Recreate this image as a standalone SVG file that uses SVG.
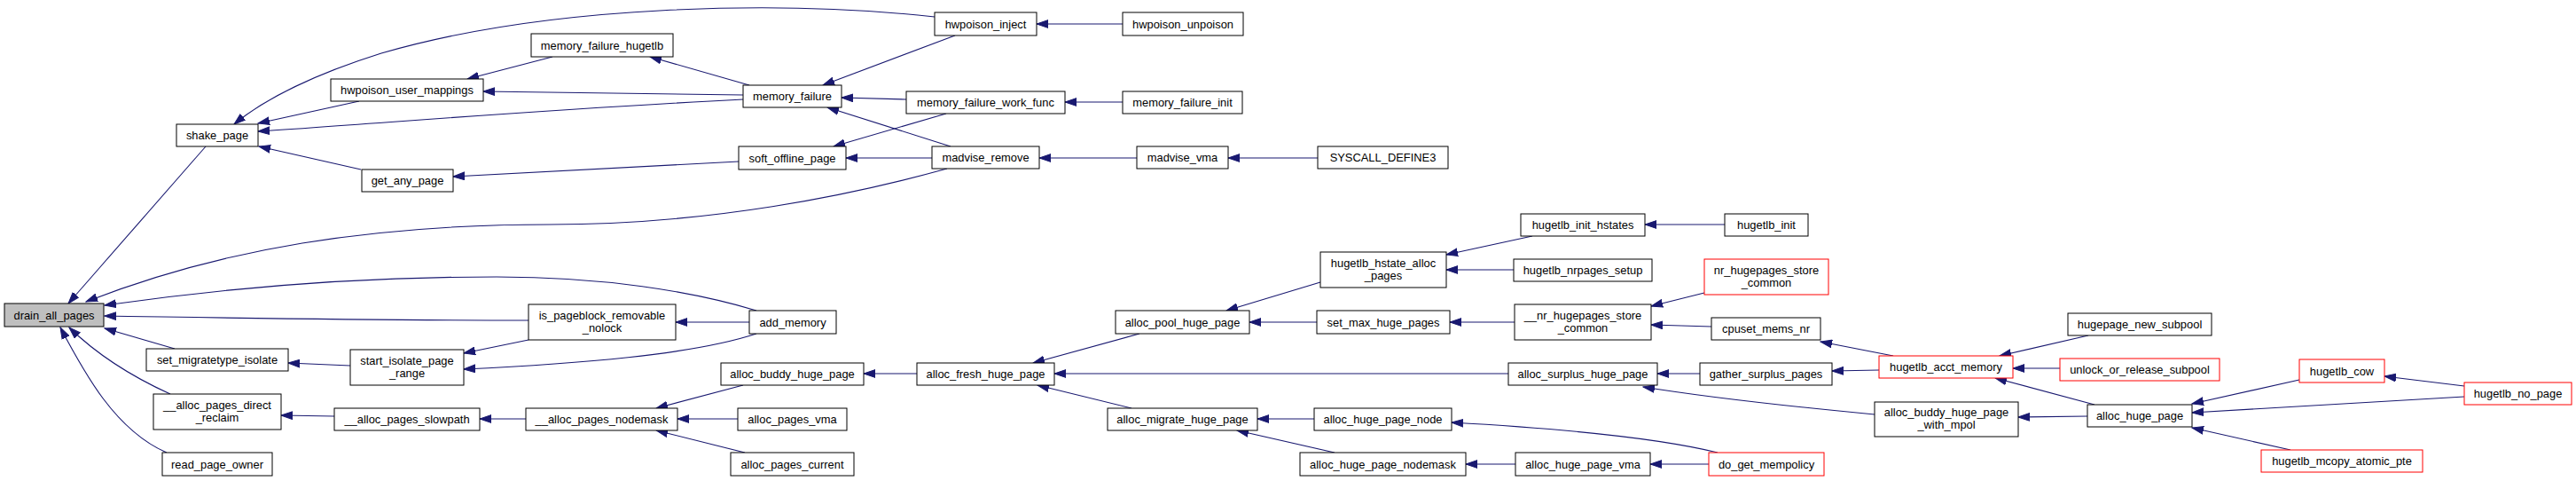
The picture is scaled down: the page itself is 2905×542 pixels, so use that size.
<svg xmlns="http://www.w3.org/2000/svg" width="2905" height="542" viewBox="0 0 2905 542">
<style>
.node rect{fill:#ffffff;stroke:#000000;stroke-width:1}
.node.red rect{stroke:#ff0000}
.node.cur rect{fill:#bfbfbf}
text{font-family:"Liberation Sans",Arial,Helvetica,sans-serif;font-size:12.9px;text-anchor:middle;fill:#000000}
#edges path{fill:none;stroke:#191970;stroke-width:1.1;marker-end:url(#arr)}
</style>
<defs>
<marker id="arr" markerUnits="userSpaceOnUse" markerWidth="14" markerHeight="10" viewBox="0 0 14 10" refX="13" refY="5" orient="auto">
<path d="M0,0.6 L13,5 L0,9.4 z" fill="#191970" stroke="#191970" stroke-width="1"/>
</marker>
</defs>
<rect x="0" y="0" width="2905" height="542" fill="#ffffff"/>
<g id="edges">
<path d="M232,165 L77,342"/>
<path d="M1068,190 C960,220 800,253 620,253 C420,253 250,280 97,340"/>
<path d="M853,350 C780,328 680,312 560,312 C400,312 250,325 118,344"/>
<path d="M596,361 C400,361 250,358 118,356"/>
<path d="M197,393 L118,370"/>
<path d="M192,444 C150,425 110,400 78,369"/>
<path d="M188,510 C130,485 95,420 68,369"/>
<path d="M1054,19 C880,0 620,5 430,60 C360,82 300,110 264,140"/>
<path d="M405,114 L291,139"/>
<path d="M838,112 C600,124 420,140 291,148"/>
<path d="M407,191 L292,165"/>
<path d="M623,64 L527,89"/>
<path d="M838,107 L545,103"/>
<path d="M845,96 L733,64"/>
<path d="M833,182 L511,199"/>
<path d="M1077,40 L928,96"/>
<path d="M1022,112 L949,110"/>
<path d="M1072,165 L933,121"/>
<path d="M1067,128 L940,165"/>
<path d="M1051,178 L954,178"/>
<path d="M1266,27 L1169,27"/>
<path d="M1266,115 L1201,115"/>
<path d="M1282,178 L1172,178"/>
<path d="M1486,178 L1385,178"/>
<path d="M845,363 L762,363"/>
<path d="M395,412 L325,409"/>
<path d="M596,383 L523,398"/>
<path d="M853,376 C780,400 650,410 523,416"/>
<path d="M377,469 L317,468"/>
<path d="M593,472 L541,472"/>
<path d="M838,434 L740,460"/>
<path d="M832,472 L764,472"/>
<path d="M840,510 L740,485"/>
<path d="M1034,421 L974,421"/>
<path d="M1285,376 L1165,409"/>
<path d="M1701,421 L1189,421"/>
<path d="M1276,460 L1170,434"/>
<path d="M1489,318 L1383,350"/>
<path d="M1485,363 L1409,363"/>
<path d="M1482,472 L1418,472"/>
<path d="M1505,510 L1395,485"/>
<path d="M1728,266 L1631,287"/>
<path d="M1707,304 L1631,304"/>
<path d="M1945,253 L1855,253"/>
<path d="M1708,363 L1635,363"/>
<path d="M1922,330 L1862,345"/>
<path d="M1930,368 L1862,366"/>
<path d="M2135,401 L2053,385"/>
<path d="M2119,417 L2066,418"/>
<path d="M1917,421 L1869,421"/>
<path d="M2114,467 C2040,460 1940,450 1853,436"/>
<path d="M1937,510 C1880,496 1780,484 1637,476"/>
<path d="M1709,523 L1653,523"/>
<path d="M1927,523 L1861,523"/>
<path d="M2355,378 L2255,401"/>
<path d="M2323,415 L2270,415"/>
<path d="M2362,456 L2250,426"/>
<path d="M2354,469 L2276,470"/>
<path d="M2593,428 L2472,455"/>
<path d="M2779,447 L2472,465"/>
<path d="M2583,507 L2472,482"/>
<path d="M2779,435 L2689,424"/>
</g>
<g id="n_drain_all_pages" class="node cur"><rect x="5" y="342" width="112" height="26"/><text x="61" y="359.5">drain_all_pages</text></g>
<g id="n_shake_page" class="node"><rect x="199" y="140" width="92" height="25"/><text x="245" y="157">shake_page</text></g>
<g id="n_set_migratetype_isolate" class="node"><rect x="165" y="393" width="160" height="25"/><text x="245" y="410">set_migratetype_isolate</text></g>
<g id="n_alloc_pages_direct_reclaim" class="node"><rect x="173" y="444" width="144" height="40"/><text x="245" y="460.5">__alloc_pages_direct</text><text x="245" y="474.5">_reclaim</text></g>
<g id="n_read_page_owner" class="node"><rect x="183" y="510" width="124" height="26"/><text x="245" y="527.5">read_page_owner</text></g>
<g id="n_hwpoison_user_mappings" class="node"><rect x="373" y="89" width="172" height="25"/><text x="459" y="106">hwpoison_user_mappings</text></g>
<g id="n_get_any_page" class="node"><rect x="408" y="191" width="103" height="25"/><text x="459.5" y="208">get_any_page</text></g>
<g id="n_start_isolate_page_range" class="node"><rect x="395" y="394" width="128" height="40"/><text x="459" y="410.5">start_isolate_page</text><text x="459" y="424.5">_range</text></g>
<g id="n_alloc_pages_slowpath" class="node"><rect x="377" y="460" width="164" height="25"/><text x="459" y="477">__alloc_pages_slowpath</text></g>
<g id="n_memory_failure_hugetlb" class="node"><rect x="599" y="38" width="160" height="26"/><text x="679" y="55.5">memory_failure_hugetlb</text></g>
<g id="n_is_pageblock_removable_nolock" class="node"><rect x="596" y="343" width="166" height="40"/><text x="679" y="359.5">is_pageblock_removable</text><text x="679" y="373.5">_nolock</text></g>
<g id="n_alloc_pages_nodemask" class="node"><rect x="593" y="460" width="171" height="25"/><text x="678.5" y="477">__alloc_pages_nodemask</text></g>
<g id="n_memory_failure" class="node"><rect x="838" y="96" width="111" height="25"/><text x="893.5" y="113">memory_failure</text></g>
<g id="n_soft_offline_page" class="node"><rect x="833" y="165" width="121" height="26"/><text x="893.5" y="182.5">soft_offline_page</text></g>
<g id="n_add_memory" class="node"><rect x="845" y="350" width="98" height="26"/><text x="894" y="367.5">add_memory</text></g>
<g id="n_alloc_buddy_huge_page" class="node"><rect x="813" y="409" width="161" height="25"/><text x="893.5" y="426">alloc_buddy_huge_page</text></g>
<g id="n_alloc_pages_vma" class="node"><rect x="832" y="460" width="123" height="25"/><text x="893.5" y="477">alloc_pages_vma</text></g>
<g id="n_alloc_pages_current" class="node"><rect x="824" y="510" width="139" height="26"/><text x="893.5" y="527.5">alloc_pages_current</text></g>
<g id="n_hwpoison_inject" class="node"><rect x="1054" y="14" width="115" height="26"/><text x="1111.5" y="31.5">hwpoison_inject</text></g>
<g id="n_memory_failure_work_func" class="node"><rect x="1022" y="103" width="179" height="25"/><text x="1111.5" y="120">memory_failure_work_func</text></g>
<g id="n_madvise_remove" class="node"><rect x="1051" y="165" width="121" height="25"/><text x="1111.5" y="182">madvise_remove</text></g>
<g id="n_alloc_fresh_huge_page" class="node"><rect x="1034" y="409" width="155" height="25"/><text x="1111.5" y="426">alloc_fresh_huge_page</text></g>
<g id="n_hwpoison_unpoison" class="node"><rect x="1266" y="14" width="136" height="26"/><text x="1334" y="31.5">hwpoison_unpoison</text></g>
<g id="n_memory_failure_init" class="node"><rect x="1266" y="103" width="135" height="25"/><text x="1333.5" y="120">memory_failure_init</text></g>
<g id="n_madvise_vma" class="node"><rect x="1282" y="165" width="103" height="25"/><text x="1333.5" y="182">madvise_vma</text></g>
<g id="n_alloc_pool_huge_page" class="node"><rect x="1258" y="350" width="151" height="26"/><text x="1333.5" y="367.5">alloc_pool_huge_page</text></g>
<g id="n_alloc_migrate_huge_page" class="node"><rect x="1249" y="460" width="169" height="25"/><text x="1333.5" y="477">alloc_migrate_huge_page</text></g>
<g id="n_SYSCALL_DEFINE3" class="node"><rect x="1486" y="165" width="147" height="25"/><text x="1559.5" y="182">SYSCALL_DEFINE3</text></g>
<g id="n_hugetlb_hstate_alloc_pages" class="node"><rect x="1489" y="284" width="142" height="40"/><text x="1560" y="300.5">hugetlb_hstate_alloc</text><text x="1560" y="314.5">_pages</text></g>
<g id="n_set_max_huge_pages" class="node"><rect x="1485" y="350" width="150" height="26"/><text x="1560" y="367.5">set_max_huge_pages</text></g>
<g id="n_alloc_huge_page_node" class="node"><rect x="1482" y="460" width="155" height="25"/><text x="1559.5" y="477">alloc_huge_page_node</text></g>
<g id="n_alloc_huge_page_nodemask" class="node"><rect x="1466" y="510" width="187" height="26"/><text x="1559.5" y="527.5">alloc_huge_page_nodemask</text></g>
<g id="n_hugetlb_init_hstates" class="node"><rect x="1715" y="241" width="140" height="25"/><text x="1785" y="258">hugetlb_init_hstates</text></g>
<g id="n_hugetlb_nrpages_setup" class="node"><rect x="1707" y="292" width="156" height="25"/><text x="1785" y="309">hugetlb_nrpages_setup</text></g>
<g id="n_nr_hugepages_store_common_" class="node"><rect x="1708" y="343" width="154" height="40"/><text x="1785" y="359.5">__nr_hugepages_store</text><text x="1785" y="373.5">_common</text></g>
<g id="n_alloc_surplus_huge_page" class="node"><rect x="1701" y="409" width="168" height="25"/><text x="1785" y="426">alloc_surplus_huge_page</text></g>
<g id="n_alloc_huge_page_vma" class="node"><rect x="1709" y="510" width="152" height="26"/><text x="1785" y="527.5">alloc_huge_page_vma</text></g>
<g id="n_hugetlb_init" class="node"><rect x="1945" y="241" width="94" height="25"/><text x="1992" y="258">hugetlb_init</text></g>
<g id="n_nr_hugepages_store_common" class="node red"><rect x="1922" y="292" width="140" height="40"/><text x="1992" y="308.5">nr_hugepages_store</text><text x="1992" y="322.5">_common</text></g>
<g id="n_cpuset_mems_nr" class="node"><rect x="1930" y="358" width="123" height="25"/><text x="1991.5" y="375">cpuset_mems_nr</text></g>
<g id="n_gather_surplus_pages" class="node"><rect x="1917" y="409" width="149" height="25"/><text x="1991.5" y="426">gather_surplus_pages</text></g>
<g id="n_do_get_mempolicy" class="node red"><rect x="1927" y="510" width="130" height="26"/><text x="1992" y="527.5">do_get_mempolicy</text></g>
<g id="n_hugetlb_acct_memory" class="node red"><rect x="2119" y="401" width="151" height="25"/><text x="2194.5" y="418">hugetlb_acct_memory</text></g>
<g id="n_alloc_buddy_huge_page_with_mpol" class="node"><rect x="2114" y="453" width="162" height="39"/><text x="2195" y="469">alloc_buddy_huge_page</text><text x="2195" y="483">_with_mpol</text></g>
<g id="n_hugepage_new_subpool" class="node"><rect x="2332" y="353" width="162" height="25"/><text x="2413" y="370">hugepage_new_subpool</text></g>
<g id="n_unlock_or_release_subpool" class="node red"><rect x="2323" y="404" width="180" height="25"/><text x="2413" y="421">unlock_or_release_subpool</text></g>
<g id="n_alloc_huge_page" class="node"><rect x="2354" y="456" width="118" height="25"/><text x="2413" y="473">alloc_huge_page</text></g>
<g id="n_hugetlb_cow" class="node red"><rect x="2593" y="405" width="96" height="26"/><text x="2641" y="422.5">hugetlb_cow</text></g>
<g id="n_hugetlb_mcopy_atomic_pte" class="node red"><rect x="2550" y="507" width="182" height="25"/><text x="2641" y="524">hugetlb_mcopy_atomic_pte</text></g>
<g id="n_hugetlb_no_page" class="node red"><rect x="2779" y="431" width="121" height="25"/><text x="2839.5" y="448">hugetlb_no_page</text></g>
</svg>
